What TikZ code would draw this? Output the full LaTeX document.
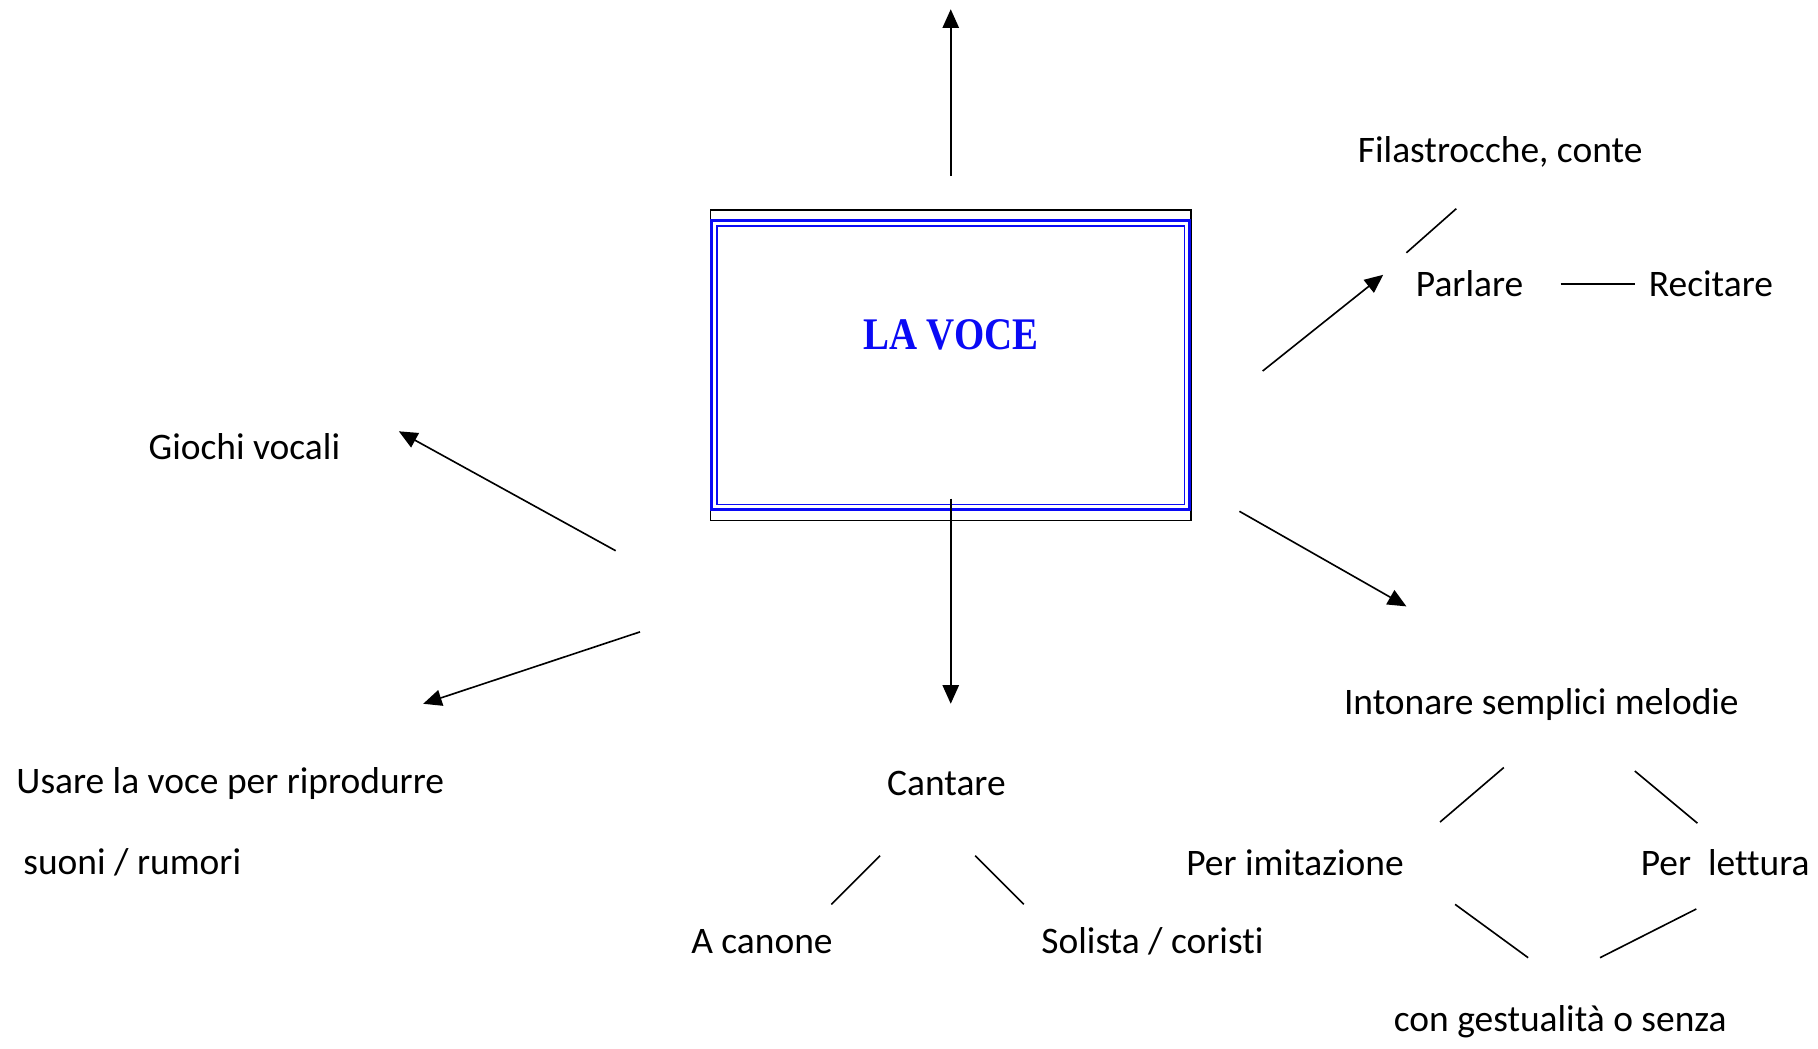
\documentclass[tikz,border=0pt]{standalone}
\usepackage{fontspec}
\setmainfont[Ligatures=NoCommon]{Carlito}
\newfontfamily\titlefont{Liberation Serif}
\usetikzlibrary{arrows.meta}
\definecolor{vblue}{RGB}{10,10,245}
\tikzset{
  lbl/.style={anchor=west, inner sep=0pt, font=\fontsize{32.3}{34}\selectfont},
  conn/.style={line width=1.4pt},
  arr/.style={line width=1.4pt, -{Triangle[length=16pt,width=14pt]}},
}
\begin{document}
\begin{tikzpicture}[x=1pt,y=-1pt]
\useasboundingbox (0,0) rectangle (1568,904);
% central box
\node[draw=black, line width=1.3pt, minimum width=414pt, minimum height=268pt, inner sep=0pt] (frame) at (820,315) {};
\draw[vblue, line width=2.6pt] (614,190.5) rectangle (1026,439.5);
\draw[vblue, line width=1.3pt] (618.5,195) rectangle (1021.5,435);
\node[inner sep=0pt, text=vblue] (voce) at (820,289) {\scalebox{0.86}[1]{\titlefont\bfseries\fontsize{39}{40}\selectfont LA VOCE}};
% labels
\node[lbl] (fil) at (1171,131) {Filastrocche, conte};
\node[lbl] (parl) at (1221,245) {Parlare};
\node[lbl] (rec) at (1422,245) {Recitare};
\node[lbl] (gio) at (128,385) {Giochi vocali};
\node[lbl] (into) at (1159,608) {Intonare semplici melodie};
\node[lbl] (imit) at (1023,744) {Per imitazione};
\node[lbl] (lett) at (1415,744) {Per\ \ lettura};
\node[lbl] (gest) at (1202,881) {con gestualità o senza};
\node[lbl] (usa) at (14,676) {Usare la voce per riprodurre};
\node[lbl] (suo) at (20,744) {suoni / rumori};
\node[lbl] (can) at (765,676) {Cantare};
\node[lbl] (aca) at (596,812) {A canone};
\node[lbl] (sol) at (898,812) {Solista / coristi};
% coordinates for connector ends
\coordinate (u1) at (820,152); \coordinate (u2) at (820,8);
\coordinate (d1) at (820,430); \coordinate (d2) at (820,607);
\coordinate (p1) at (1089,320); \coordinate (p2) at (1193,237);
\coordinate (i1) at (1069,441); \coordinate (i2) at (1213,523);
\coordinate (g1) at (531,475); \coordinate (g2) at (344,372);
\coordinate (s1) at (552,545); \coordinate (s2) at (365,607);
\coordinate (f1) at (1213,218); \coordinate (f2) at (1256,180);
\coordinate (r1) at (1346,245); \coordinate (r2) at (1410,245);
\coordinate (m1) at (1242,709); \coordinate (m2) at (1297,662);
\coordinate (m3) at (1410,665); \coordinate (m4) at (1464,710);
\coordinate (m5) at (1255,780); \coordinate (m6) at (1318,826);
\coordinate (m7) at (1380,826); \coordinate (m8) at (1463,784);
\coordinate (c1) at (717,780); \coordinate (c2) at (759,738);
\coordinate (c3) at (841,738); \coordinate (c4) at (883,780);
% arrows
\draw[arr] (u1) -- (u2);
\draw[arr] (d1) -- (d2);
\draw[arr] (p1) -- (p2);
\draw[arr] (i1) -- (i2);
\draw[arr] (g1) -- (g2);
\draw[arr] (s1) -- (s2);
% plain lines
\draw[conn] (f1) -- (f2);
\draw[conn] (r1) -- (r2);
\draw[conn] (m1) -- (m2);
\draw[conn] (m3) -- (m4);
\draw[conn] (m5) -- (m6);
\draw[conn] (m7) -- (m8);
\draw[conn] (c1) -- (c2);
\draw[conn] (c3) -- (c4);
\end{tikzpicture}
\end{document}
